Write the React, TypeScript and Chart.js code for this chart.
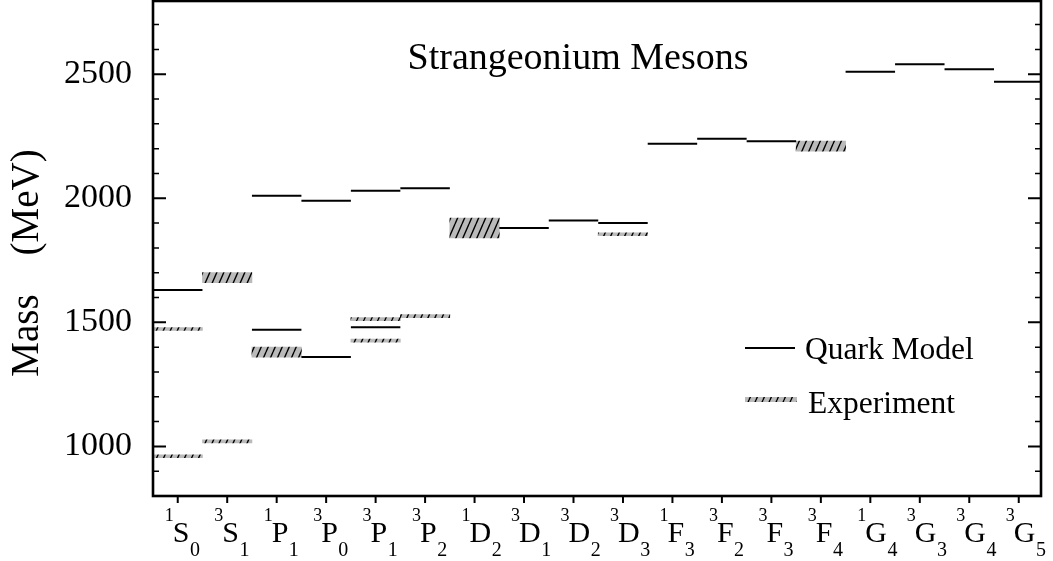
import React, { useEffect, useRef } from "react";
import { Chart, registerables } from "chart.js";

Chart.register(...registerables);

// ---- data ----
const categories = ["1S0", "3S1", "1P1", "3P0", "3P1", "3P2", "1D2", "3D1", "3D2", "3D3", "1F3", "3F2", "3F3", "3F4", "1G4", "3G3", "3G4", "3G5"];

// Quark model levels (category index, mass in MeV)
const quarkIndex = [0, 2, 2, 3, 3, 4, 4, 5, 7, 8, 9, 10, 11, 12, 14, 15, 16, 17];
const quarkMass = [1630, 1470, 2010, 1360, 1990, 1480, 2030, 2040, 1880, 1910, 1900, 2220, 2240, 2230, 2510, 2540, 2520, 2470];

// Experimental bands (category index, low, high in MeV)
const expIndex = [0, 0, 1, 1, 2, 4, 4, 5, 6, 9, 13];
const expLow = [954, 1467, 1014, 1660, 1360, 1420, 1507, 1519, 1840, 1849, 2190];
const expHigh = [966, 1479, 1026, 1700, 1400, 1432, 1519, 1531, 1920, 1861, 2230];

const yMajorTicks = [1000, 1500, 2000, 2500];
const yMinorTicks = [900, 1100, 1200, 1300, 1400, 1600, 1700, 1800, 1900, 2100, 2200, 2300, 2400, 2600, 2700];
const yRange = [800, 2795];
const xRange = [-0.5, 17.45];

const titleText = "Strangeonium Mesons";
const yTitleText = "Mass    (MeV)";

const FONT = '"Liberation Serif", "Times New Roman", serif';

function makeHatch(): CanvasPattern | string {
  const w = 7;
  const h = 16;
  const off = document.createElement("canvas");
  off.width = w;
  off.height = h;
  const g = off.getContext("2d");
  if (!g) return "#b8b8b8";
  g.fillStyle = "#bababa";
  g.fillRect(0, 0, w, h);
  g.strokeStyle = "#000";
  g.lineWidth = 1.4;
  g.beginPath();
  for (const [dx, dy] of [[0, 0], [-w, h], [w, -h], [-w, 0], [w, 0]]) {
    g.moveTo(dx, h + dy);
    g.lineTo(w + dx, dy);
  }
  g.stroke();
  const p = g.createPattern(off, "repeat");
  return p || "#b8b8b8";
}

export default function App() {
  const ref = useRef<HTMLCanvasElement>(null);

  useEffect(() => {
    const canvas = ref.current;
    if (!canvas) return;
    const hatch = makeHatch();

    const quarkData: { x: number; y: number | null }[] = [];
    quarkIndex.forEach((idx, k) => {
      quarkData.push({ x: idx - 0.5, y: quarkMass[k] });
      quarkData.push({ x: idx + 0.5, y: quarkMass[k] });
      quarkData.push({ x: idx + 0.5, y: null });
    });
    const expData = expIndex.map((idx, k) => ({ x: idx, y: [expLow[k], expHigh[k]] }));

    const decor = {
      id: "decor",
      afterDraw(chart: any) {
        const { ctx, chartArea: a, scales } = chart;
        const x = scales.x;
        const y = scales.y;
        ctx.save();
        ctx.strokeStyle = "#000";
        ctx.fillStyle = "#000";
        ctx.lineCap = "butt";

        // y ticks, inward on left and right
        const drawYTick = (v: number, major: boolean) => {
          const py = y.getPixelForValue(v);
          const len = major ? 13 : 6;
          ctx.lineWidth = major ? 2 : 1.5;
          ctx.beginPath();
          ctx.moveTo(a.left, py);
          ctx.lineTo(a.left + len, py);
          ctx.moveTo(a.right, py);
          ctx.lineTo(a.right - len, py);
          ctx.stroke();
        };
        yMajorTicks.forEach((v) => drawYTick(v, true));
        yMinorTicks.forEach((v) => drawYTick(v, false));

        // x ticks outward
        ctx.lineWidth = 2;
        categories.forEach((_, i) => {
          const px = x.getPixelForValue(i);
          ctx.beginPath();
          ctx.moveTo(px, a.bottom);
          ctx.lineTo(px, a.bottom + 7);
          ctx.stroke();
        });

        // frame
        ctx.lineWidth = 2.6;
        ctx.strokeRect(a.left, a.top, a.right - a.left, a.bottom - a.top);

        // x labels with super/subscripts
        ctx.textBaseline = "alphabetic";
        categories.forEach((lab, i) => {
          const px = x.getPixelForValue(i);
          const sup = lab[0];
          const main = lab[1];
          const sub = lab.slice(2);
          const mainLeft = px - 5;
          ctx.font = `30px ${FONT}`;
          ctx.textAlign = "left";
          ctx.fillText(main, mainLeft, 542);
          const mw = ctx.measureText(main).width;
          ctx.font = `18px ${FONT}`;
          ctx.textAlign = "right";
          ctx.fillText(sup, px - 4, 521);
          ctx.font = `20px ${FONT}`;
          ctx.textAlign = "left";
          ctx.fillText(sub, mainLeft + mw + 0.5, 556);
        });

        // title
        ctx.font = `38px ${FONT}`;
        ctx.textAlign = "center";
        ctx.fillText(titleText, 578, 69);

        // y axis title
        ctx.save();
        ctx.translate(38, 263);
        ctx.rotate(-Math.PI / 2);
        ctx.font = `39px ${FONT}`;
        ctx.textAlign = "center";
        ctx.fillText(yTitleText, 0, 0);
        ctx.restore();

        // legend
        const ds = chart.data.datasets;
        ctx.lineWidth = 2;
        ctx.beginPath();
        ctx.moveTo(745, 348);
        ctx.lineTo(795, 348);
        ctx.stroke();
        ctx.fillStyle = hatch;
        ctx.fillRect(745, 397, 52, 5);
        ctx.fillStyle = "#000";
        ctx.font = `31.5px ${FONT}`;
        ctx.textAlign = "left";
        ctx.textBaseline = "middle";
        ctx.fillText(ds[0].label, 805, 351);
        ctx.fillText(ds[1].label, 808, 405);

        ctx.restore();
      },
    };

    const chart = new Chart(canvas, {
      type: "bar",
      data: {
        datasets: [
          {
            type: "line",
            label: "Quark Model",
            data: quarkData as any,
            borderColor: "#000",
            borderWidth: 2,
            borderCapStyle: "butt",
            pointRadius: 0,
            spanGaps: false,
            fill: false,
            tension: 0,
            order: 0,
          } as any,
          {
            type: "bar",
            label: "Experiment",
            data: expData as any,
            backgroundColor: hatch as any,
            borderWidth: 0,
            barPercentage: 1,
            categoryPercentage: 1,
            order: 1,
          } as any,
        ],
      },
      options: {
        responsive: false,
        animation: false,
        devicePixelRatio: 1,
        layout: { padding: { top: 1, right: 12, left: 0, bottom: 0 } },
        plugins: {
          legend: { display: false },
          tooltip: { enabled: false },
          title: { display: false },
        },
        scales: {
          x: {
            type: "linear",
            position: "bottom",
            min: xRange[0],
            max: xRange[1],
            offset: false,
            grid: { display: false, drawTicks: false },
            border: { display: false },
            ticks: { display: false },
            afterBuildTicks: (s: any) => {
              s.ticks = categories.map((_, i) => ({ value: i }));
            },
            afterFit: (s: any) => {
              s.height = 65;
              s.paddingLeft = 0;
              s.paddingRight = 0;
            },
          },
          y: {
            type: "linear",
            position: "left",
            min: yRange[0],
            max: yRange[1],
            beginAtZero: false,
            grid: { display: false, drawTicks: false },
            border: { display: false },
            ticks: {
              color: "#000",
              padding: 21,
              font: { family: FONT, size: 34 },
              callback: (v: any) => String(v),
            },
            afterBuildTicks: (s: any) => {
              s.ticks = yMajorTicks.map((v) => ({ value: v }));
            },
            afterFit: (s: any) => {
              s.width = 153;
              s.paddingTop = 0;
              s.paddingBottom = 0;
            },
          },
        } as any,
      },
      plugins: [decor],
    });

    return () => chart.destroy();
  }, []);

  return (
    <canvas
      ref={ref}
      width={1053}
      height={561}
      style={{ position: "absolute", left: 0, top: 0, display: "block", width: 1053, height: 561 }}
    />
  );
}
